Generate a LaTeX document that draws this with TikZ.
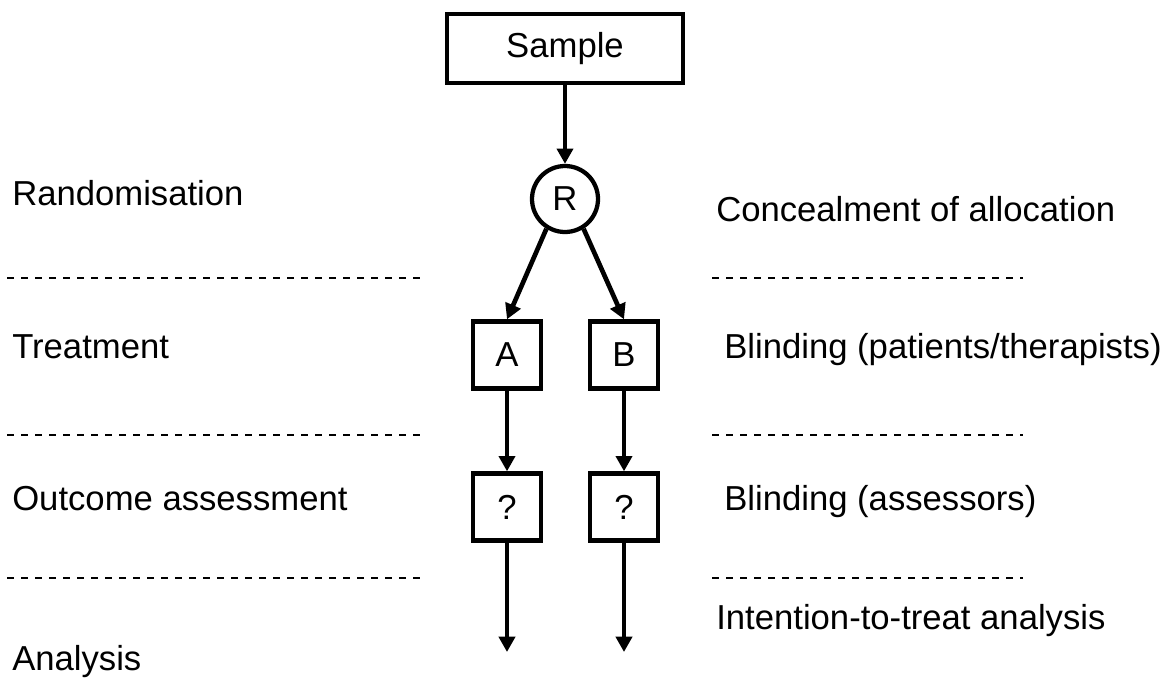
\documentclass[tikz,border=0pt]{standalone}
\usepackage{fontspec}
\setmainfont{Liberation Sans}
\usetikzlibrary{arrows.meta}
\begin{document}
\begin{tikzpicture}[x=0.75pt,y=-0.75pt,
  every node/.style={font=\fontsize{26pt}{30pt}\selectfont},
  boxnode/.style={draw,line width=3.5pt,inner sep=0pt,minimum width=51pt,minimum height=50pt},
  samplebox/.style={draw,line width=3.5pt,inner sep=0pt,minimum width=177pt,minimum height=51.75pt},
  circnode/.style={draw,circle,line width=3.2pt,inner sep=0pt,minimum size=49.5pt},
  lab/.style={anchor=base west,inner sep=0pt},
  arr/.style={line width=3.5pt,-{Triangle[length=11.5pt,width=12pt]}},
  dashline/.style={line width=1.8pt,dash pattern=on 5.5pt off 5pt}]
\useasboundingbox (0,0) rectangle (1168,678);
% nodes
\node[samplebox] (S) at (565,48.5) {Sample};
\node[circnode] (R) at (565,199) {R};
\node[boxnode] (A) at (507,355) {A};
\node[boxnode] (B) at (624,355) {B};
\node[boxnode] (QA) at (507,507) {?};
\node[boxnode] (QB) at (624,507) {?};
\coordinate (EA) at (507,652);
\coordinate (EB) at (624,652);
% arrows
\draw[arr] (S) -- (R);
\draw[arr] (R.-122) -- (A.north);
\draw[arr] (R.-58) -- (B.north);
\draw[arr] (A) -- (QA);
\draw[arr] (B) -- (QB);
\draw[arr] (QA) -- (EA);
\draw[arr] (QB) -- (EB);
% dashed separators
\coordinate (L1a) at (7,278); \coordinate (L1b) at (422,278);
\coordinate (R1a) at (712,278); \coordinate (R1b) at (1023,278);
\coordinate (L2a) at (7,435); \coordinate (L2b) at (422,435);
\coordinate (R2a) at (712,435); \coordinate (R2b) at (1023,435);
\coordinate (L3a) at (7,578); \coordinate (L3b) at (422,578);
\coordinate (R3a) at (712,578); \coordinate (R3b) at (1023,578);
\draw[dashline] (L1a) -- (L1b);
\draw[dashline] (R1a) -- (R1b);
\draw[dashline] (L2a) -- (L2b);
\draw[dashline] (R2a) -- (R2b);
\draw[dashline] (L3a) -- (L3b);
\draw[dashline] (R3a) -- (R3b);
% labels
\node[lab] (l1) at (12,205) {Randomisation};
\node[lab] (l2) at (12,358) {Treatment};
\node[lab] (l3) at (12,510) {Outcome assessment};
\node[lab] (l4) at (12,670) {Analysis};
\node[lab] (r1) at (716,221) {Concealment of allocation};
\node[lab] (r2) at (724,358) {Blinding (patients/therapists)};
\node[lab] (r3) at (724,510) {Blinding (assessors)};
\node[lab] (r4) at (716,629) {Intention-to-treat analysis};
\end{tikzpicture}
\end{document}
